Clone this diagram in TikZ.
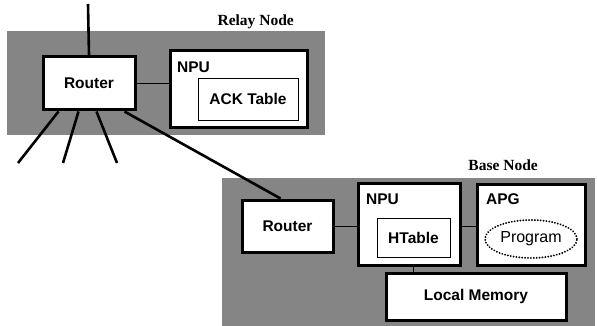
\documentclass[tikz,border=0pt]{standalone}
\usepackage{fontspec}
\setmainfont{Liberation Sans}
\newfontfamily\titlefont{Liberation Serif}
\usetikzlibrary{shapes.geometric,calc,backgrounds}
\begin{document}
\begin{tikzpicture}[x=1pt,y=-1pt,
  region/.style={fill=black!48,draw=none},
  unitbox/.style={draw,line width=3pt,fill=white,inner sep=0pt,
    font=\fontsize{15.5}{18}\selectfont\bfseries},
  tablebox/.style={draw,line width=0.9pt,fill=white,inner sep=0pt,
    font=\fontsize{15.5}{18}\selectfont\bfseries},
  unitlabel/.style={anchor=west,inner sep=0pt,font=\fontsize{15.5}{18}\selectfont\bfseries},
  nodetitle/.style={anchor=east,inner sep=0pt,font=\titlefont\fontsize{15.5}{18}\selectfont\bfseries},
  link/.style={line width=0.9pt},
  wire/.style={line width=2.6pt}]
\useasboundingbox (0,0) rectangle (597,326);

% Relay node
\node[unitbox,minimum width=92pt,minimum height=53pt] (r1) at (89,83.5) {Router};
\node[unitbox,minimum width=137pt,minimum height=77pt] (n1) at (238.5,89.5) {};
\node[unitlabel] (n1l) at (177,67) {NPU};
\node[tablebox,minimum width=100pt,minimum height=42pt] (ack) at (248,99) {ACK Table};
\node[nodetitle] (relay) at (294,22) {Relay Node};

% Base node
\node[unitbox,minimum width=91pt,minimum height=52pt] (r2) at (287.5,226) {Router};
\node[unitbox,minimum width=102pt,minimum height=82pt] (n2) at (409,224) {};
\node[unitlabel] (n2l) at (366,199) {NPU};
\node[tablebox,minimum width=73pt,minimum height=39pt] (ht) at (413.5,237.5) {HTable};
\node[unitbox,minimum width=108pt,minimum height=81pt] (apg) at (531,224.5) {};
\node[unitlabel] (apgl) at (486,199) {APG};
\node[ellipse,draw,line width=2pt,dash pattern=on 0.1pt off 2.8pt,line cap=round,
  minimum width=92pt,minimum height=38pt,inner sep=0pt,
  font=\fontsize{16}{18}\selectfont] (prog) at (531,239) {Program};
\node[unitbox,minimum width=180pt,minimum height=47pt] (lm) at (476,296.5) {Local Memory};
\node[nodetitle] (base) at (538,165) {Base Node};

% free ends of the outside links
\coordinate (up) at (88,4);
\coordinate (f1) at (18,163);
\coordinate (f2) at (63,163);
\coordinate (f3) at (117,163);

\begin{pgfonlayer}{background}
  \fill[region] (7,31) rectangle (325,135);
  \fill[region] (222,178) rectangle (595,326);
  % outside links of the relay router
  \draw[wire] (up) -- (r1.north);
  \draw[wire] ($(r1.south west)+(17,0)$) -- (f1);
  \draw[wire] ($(r1.south west)+(37,0)$) -- (f2);
  \draw[wire] ($(r1.south west)+(55,0)$) -- (f3);
  \draw[wire] ($(r1.south east)+(-12,0)$) -- ($(r2.north west)+(40,0)$);
  % internal links
  \draw[link] (r1.east) -- (r1.east -| n1.west);
  \draw[link] (r2.east) -- (r2.east -| n2.west);
  \draw[link] (ht.east |- r2.east) -- (apg.west |- r2.east);
  \draw[link] (ht.south |- n2.south) -- (ht.south |- lm.north);
\end{pgfonlayer}
\end{tikzpicture}
\end{document}
